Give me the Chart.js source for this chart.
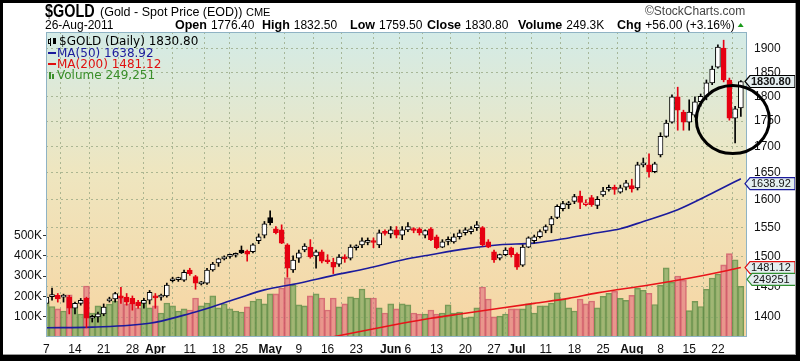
<!DOCTYPE html>
<html>
<head>
<meta charset="utf-8">
<script src="https://cdn.jsdelivr.net/npm/chart.js@4.4.0/dist/chart.umd.min.js"></script>
<style>
  html, body { margin: 0; padding: 0; background: #fff; }
  canvas { display: block; }
</style>
</head>
<body>
<canvas id="gold-chart" width="800" height="361"></canvas>
<script>
// trading days 7-Mar-2011 .. 26-Aug-2011, index 0 = 7 Mar
const tickDays   = [0, 5, 10, 15, 19, 25, 30, 34, 39, 44, 49, 54, 60, 63, 68, 73, 78, 82, 87, 92, 97, 102, 107, 112, 117];
const tickLabels = ['7', '14', '21', '28', 'Apr', '11', '18', '25', 'May', '9', '16', '23', 'Jun', '6', '13', '20', '27', 'Jul', '11', '18', '25', 'Aug', '8', '15', '22'];
const monthLabels = ['Apr', 'May', 'Jun', 'Jul', 'Aug'];

const opens = [
  1422, 1433, 1435, 1432, 1432, 1414, 1422, 1430, 1398, 1400,
  1405, 1426, 1429, 1433, 1432, 1430, 1424, 1422, 1427, 1433,
  1432, 1434, 1459, 1461, 1460, 1477, 1466, 1454, 1455, 1477,
  1489, 1496, 1500, 1502, 1511, 1509, 1508, 1527, 1537, 1568,
  1548, 1546, 1520, 1477, 1497, 1511, 1516, 1501, 1508, 1494,
  1490, 1487, 1498, 1497, 1515, 1520, 1524, 1526, 1520, 1542,
  1539, 1546, 1537, 1546, 1547, 1548, 1537, 1548, 1534, 1516,
  1526, 1525, 1534, 1541, 1543, 1550, 1550, 1525, 1508, 1497,
  1503, 1515, 1504, 1485, 1516, 1527, 1534, 1545, 1555, 1568,
  1584, 1591, 1597, 1607, 1591, 1604, 1590, 1609, 1619, 1621,
  1614, 1623, 1626, 1622, 1665, 1665, 1652, 1684, 1720, 1748,
  1799, 1768, 1748, 1762, 1789, 1800, 1828, 1861, 1902, 1834,
  1756, 1776.4
];
const highs = [
  1438, 1447, 1438, 1437, 1435, 1424, 1430, 1432, 1403, 1408,
  1421, 1432, 1440, 1448, 1438, 1434, 1427, 1430, 1443, 1438,
  1437, 1455, 1465, 1465, 1477, 1480, 1468, 1458, 1480, 1490,
  1497, 1501, 1504, 1506, 1518, 1511, 1522, 1539, 1561, 1580,
  1552, 1555, 1522, 1501, 1511, 1522, 1529, 1511, 1511, 1503,
  1497, 1503, 1503, 1520, 1520, 1532, 1532, 1532, 1546, 1546,
  1552, 1552, 1552, 1559, 1550, 1550, 1546, 1550, 1537, 1529,
  1534, 1539, 1546, 1550, 1552, 1561, 1552, 1529, 1511, 1504,
  1515, 1516, 1506, 1520, 1534, 1537, 1546, 1555, 1570, 1591,
  1597, 1597, 1610, 1616, 1600, 1608, 1606, 1623, 1627, 1627,
  1627, 1636, 1638, 1670, 1678, 1686, 1670, 1727, 1752, 1803,
  1819, 1772, 1793, 1799, 1805, 1834, 1863, 1909, 1919, 1838,
  1780, 1832.5
];
const lows = [
  1418, 1427, 1424, 1424, 1405, 1405, 1419, 1383, 1392, 1392,
  1402, 1424, 1424, 1422, 1419, 1411, 1414, 1414, 1421, 1414,
  1427, 1432, 1457, 1458, 1458, 1468, 1445, 1452, 1453, 1475,
  1483, 1494, 1497, 1499, 1505, 1492, 1506, 1522, 1532, 1555,
  1539, 1522, 1465, 1473, 1490, 1508, 1497, 1480, 1489, 1488,
  1471, 1483, 1490, 1494, 1511, 1515, 1520, 1515, 1515, 1537,
  1532, 1532, 1529, 1543, 1541, 1537, 1532, 1527, 1513, 1515,
  1520, 1523, 1530, 1537, 1539, 1545, 1518, 1515, 1490, 1494,
  1501, 1499, 1478, 1483, 1515, 1523, 1532, 1541, 1541, 1566,
  1580, 1584, 1593, 1584, 1589, 1588, 1584, 1606, 1616, 1610,
  1612, 1618, 1614, 1618, 1661, 1642, 1650, 1680, 1718, 1746,
  1732, 1732, 1732, 1758, 1780, 1793, 1824, 1859, 1830, 1752,
  1707, 1759.5
];
const closes = [
  1432, 1435, 1429, 1433, 1414, 1422, 1427, 1398, 1399, 1405,
  1416, 1427, 1438, 1431, 1424, 1421, 1418, 1427, 1440, 1431,
  1433, 1452, 1460, 1462, 1473, 1471, 1455, 1456, 1477, 1487,
  1496, 1497, 1501, 1503, 1506, 1504, 1520, 1534, 1557, 1559,
  1541, 1523, 1480, 1494, 1506, 1518, 1499, 1508, 1492, 1491,
  1482, 1499, 1496, 1516, 1517, 1527, 1528, 1524, 1541, 1540,
  1546, 1537, 1546, 1552, 1545, 1541, 1545, 1529, 1515, 1525,
  1527, 1534, 1541, 1546, 1548, 1555, 1520, 1516, 1494, 1503,
  1511, 1503, 1482, 1516, 1532, 1534, 1543, 1552, 1566, 1588,
  1593, 1594, 1606, 1595, 1594, 1591, 1601, 1616, 1620, 1619,
  1622, 1631, 1620, 1665, 1667, 1652, 1667, 1720, 1746, 1799,
  1772, 1748, 1768, 1789, 1800, 1828, 1857, 1904, 1834, 1756,
  1774.8, 1830.8
];
// volume in thousands
const volumes = [
  177, 150, 138, 128, 207, 153, 113, 251, 118, 153,
  148, 162, 177, 192, 163, 167, 143, 177, 143, 153,
  118, 167, 153, 128, 138, 133, 192, 153, 167, 202,
  143, 163, 138, 128, 123, 148, 177, 187, 163, 212,
  212, 241, 291, 256, 158, 153, 202, 212, 192, 133,
  192, 148, 163, 197, 192, 236, 192, 192, 143, 118,
  163, 138, 163, 158, 118, 113, 113, 133, 113, 118,
  158, 118, 123, 94, 99, 143, 246, 187, 99, 103,
  113, 138, 138, 138, 163, 118, 153, 153, 167, 217,
  187, 143, 128, 187, 163, 177, 143, 200, 215, 225,
  190, 180, 205, 240, 230, 215, 160, 255, 340, 270,
  300, 280, 130, 175, 150, 235, 290, 310, 355, 410,
  380, 249.251
];

// moving averages
const ma50Days  = [0, 8, 18, 24, 27, 33, 38, 44, 50, 56, 62, 67, 73, 79, 85, 91, 96, 100, 104, 110, 116, 121];
const ma50      = [1383, 1384, 1390, 1403, 1411, 1429, 1444, 1455, 1468, 1480, 1494, 1503, 1513, 1520, 1523, 1532, 1541, 1548, 1561, 1582, 1612, 1638.92];
const ma200Days = [50, 62, 67, 73, 79, 85, 91, 96, 105, 114, 121];
const ma200     = [1369, 1390, 1398, 1406, 1414, 1422, 1430, 1439, 1452, 1467, 1481.12];

const priceTicks = [1400, 1450, 1500, 1550, 1600, 1650, 1700, 1750, 1800, 1850, 1900];
const volTicks = [100, 200, 300, 400, 500];

const FONT = '"Liberation Sans", Arial, sans-serif';

const days = closes.map((c, i) => i);
const upDay = closes.map((c, i) => c >= (i ? closes[i - 1] : opens[i]));
const candleColor = upDay.map(u => u ? '#000000' : '#e60012');
const bodyColor = closes.map((c, i) => c > opens[i] ? '#ffffff' : candleColor[i]);
const volFill = upDay.map(u => u ? 'rgba(128,168,96,0.72)' : 'rgba(224,112,124,0.62)');
const volEdge = upDay.map(u => u ? 'rgba(98,140,72,0.85)' : 'rgba(205,86,102,0.8)');

function valueBox(ctx, x, y, text, border, bold) {
  ctx.save();
  ctx.beginPath();
  ctx.moveTo(x, y);
  ctx.lineTo(x + 5, y - 6);
  ctx.lineTo(x + 50, y - 6);
  ctx.lineTo(x + 50, y + 6);
  ctx.lineTo(x + 5, y + 6);
  ctx.closePath();
  ctx.fillStyle = '#e4eef0';
  ctx.fill();
  ctx.lineWidth = 1.2;
  ctx.strokeStyle = border;
  ctx.stroke();
  ctx.fillStyle = '#111';
  ctx.font = (bold ? 'bold ' : '') + '11px ' + FONT;
  ctx.textBaseline = 'middle';
  ctx.fillText(text, x + 6, y + 0.5);
  ctx.restore();
}

const decor = {
  id: 'decor',
  beforeDraw(chart) {
    const { ctx, chartArea: a } = chart;
    ctx.save();
    ctx.fillStyle = '#ffffff';
    ctx.fillRect(0, 0, chart.width, chart.height);
    const g = ctx.createLinearGradient(0, a.top, 0, a.bottom);
    g.addColorStop(0, '#d3ebe7');
    g.addColorStop(0.45, '#eee6c0');
    g.addColorStop(1, '#f7d5a2');
    ctx.fillStyle = g;
    ctx.fillRect(a.left, a.top, a.right - a.left, a.bottom - a.top);
    ctx.restore();
  },
  afterDraw(chart) {
    const { ctx, chartArea: a, scales } = chart;
    ctx.save();

    // plot border
    ctx.strokeStyle = '#8fb3c4';
    ctx.lineWidth = 1;
    ctx.strokeRect(a.left + 0.5, a.top + 0.5, a.right - a.left - 1, a.bottom - a.top - 1);

    // header line 1
    ctx.fillStyle = '#000';
    ctx.textBaseline = 'alphabetic';
    ctx.save();
    ctx.translate(45, 17);
    ctx.scale(0.8, 1);
    ctx.font = 'bold 18px ' + FONT;
    ctx.fillText('$GOLD', 0, 0);
    ctx.restore();
    ctx.font = '12.5px ' + FONT;
    ctx.fillText('(Gold - Spot Price (EOD))', 100, 16);
    ctx.font = '11px ' + FONT;
    ctx.fillText('CME', 246, 16);
    ctx.fillStyle = '#444';
    ctx.font = '12px ' + FONT;
    ctx.fillText('\u00a9StockCharts.com', 645, 15);

    // header line 2
    ctx.fillStyle = '#000';
    ctx.font = '12px ' + FONT;
    ctx.fillText('26-Aug-2011', 45, 29);
    const parts = [['Open', 175, '1776.40'], ['High', 262, '1832.50'], ['Low', 350, '1759.50'],
                   ['Close', 427, '1830.80'], ['Volume', 518, '249.3K'], ['Chg', 617, '+56.00 (+3.16%)']];
    let endX = 0;
    parts.forEach(([k, kx, v]) => {
      ctx.font = 'bold 12.5px ' + FONT;
      ctx.fillText(k, kx, 29);
      const vx = kx + ctx.measureText(k).width + 4;
      ctx.font = '12px ' + FONT;
      ctx.fillText(v, vx, 29);
      endX = vx + ctx.measureText(v).width;
    });
    ctx.fillStyle = '#1a9a1a';
    ctx.beginPath();
    ctx.moveTo(endX + 3, 27); ctx.lineTo(endX + 9, 27); ctx.lineTo(endX + 6, 23);
    ctx.closePath(); ctx.fill();

    // legend inside plot
    ctx.font = '12px "DejaVu Sans", sans-serif';
    ctx.fillStyle = '#000';
    ctx.fillRect(50, 38, 1, 8);
    ctx.strokeStyle = '#000';
    ctx.strokeRect(48.5, 39.5, 2, 4);
    ctx.fillRect(53, 38, 3, 6);
    ctx.fillText('$GOLD (Daily) 1830.80', 59, 45);
    ctx.fillStyle = '#1b1b9c';
    ctx.fillRect(48, 52, 8, 2);
    ctx.fillText('MA(50) 1638.92', 57, 57);
    ctx.fillStyle = '#e01010';
    ctx.fillRect(48, 63, 8, 2);
    ctx.fillText('MA(200) 1481.12', 57, 68);
    ctx.fillStyle = '#3a8f2a';
    ctx.fillRect(49, 72, 2, 7);
    ctx.fillRect(52, 74, 2, 5);
    ctx.fillText('Volume 249,251', 57, 79);

    // last-value boxes on the right
    const py = scales.price;
    valueBox(ctx, 745, py.getPixelForValue(closes[closes.length - 1]), '1830.80', '#000', true);
    valueBox(ctx, 745, py.getPixelForValue(ma50[ma50.length - 1]) + 5, '1638.92', '#1b1b9c', false);
    valueBox(ctx, 745, py.getPixelForValue(ma200[ma200.length - 1]), '1481.12', '#e01010', false);
    valueBox(ctx, 747, scales.vol.getPixelForValue(volumes[volumes.length - 1]) - 7, '249251', '#2f8f2f', false);

    // hand-drawn circle around the late-August reversal
    ctx.beginPath();
    ctx.lineWidth = 3;
    ctx.strokeStyle = '#000';
    ctx.ellipse(scales.x.getPixelForValue(119.6), py.getPixelForValue(1753), 36.5, 34, 0, 0, Math.PI * 2);
    ctx.stroke();

    // outer frame
    ctx.fillStyle = '#000';
    ctx.fillRect(0, 0, chart.width, 3);
    ctx.fillRect(0, 0, 3, chart.height);
    ctx.fillRect(chart.width - 4, 0, 4, chart.height);
    ctx.fillRect(0, chart.height - 6, chart.width, 6);
    ctx.fillStyle = '#9a9a9a';
    ctx.fillRect(3, chart.height - 7, chart.width - 7, 1);
    ctx.fillRect(chart.width - 5, 3, 1, chart.height - 9);
    ctx.restore();
  }
};

const gridColor = 'rgba(150,165,130,0.75)';

new Chart(document.getElementById('gold-chart'), {
  data: {
    datasets: [
      {
        type: 'bar', label: 'Volume', yAxisID: 'vol',
        data: volumes.map((v, i) => ({ x: i, y: v })),
        backgroundColor: volFill, borderColor: volEdge, borderWidth: 1,
        barThickness: 6, order: 10
      },
      {
        type: 'line', label: 'MA(200)', yAxisID: 'price',
        data: ma200Days.map((d, k) => ({ x: d, y: ma200[k] })),
        borderColor: '#e8141a', borderWidth: 1.6, pointRadius: 0,
        cubicInterpolationMode: 'monotone', order: 6
      },
      {
        type: 'line', label: 'MA(50)', yAxisID: 'price',
        data: ma50Days.map((d, k) => ({ x: d, y: ma50[k] })),
        borderColor: '#1b1b9c', borderWidth: 1.6, pointRadius: 0,
        cubicInterpolationMode: 'monotone', order: 5
      },
      {
        type: 'bar', label: 'wick', yAxisID: 'price',
        data: days.map(i => ({ x: i, y: [lows[i], highs[i]] })),
        backgroundColor: candleColor, barThickness: 1, order: 2
      },
      {
        type: 'bar', label: '$GOLD', yAxisID: 'price',
        data: days.map(i => ({ x: i, y: [opens[i], closes[i]] })),
        backgroundColor: bodyColor, borderColor: candleColor, borderWidth: 1,
        borderSkipped: false, barThickness: 5, minBarLength: 2, order: 1
      }
    ]
  },
  options: {
    responsive: false,
    animation: false,
    devicePixelRatio: 1,
    layout: { padding: { top: 32, left: 0, right: 0, bottom: 0 } },
    datasets: { bar: { grouped: false } },
    plugins: { legend: { display: false }, tooltip: { enabled: false } },
    scales: {
      x: {
        type: 'linear', min: -0.05, max: 122.07, bounds: 'data', offset: false,
        afterBuildTicks: s => { s.ticks = tickDays.map(v => ({ value: v })); },
        afterFit: s => { s.height = 24; },
        grid: { color: gridColor, drawTicks: false },
        border: { display: false, dash: [2, 3] },
        ticks: {
          autoSkip: false, maxRotation: 0, padding: 5, color: '#111',
          font: c => ({ family: FONT, size: 12, weight: monthLabels.includes(tickLabels[c.index]) ? 'bold' : 'normal' }),
          callback: (v, k) => tickLabels[k]
        }
      },
      price: {
        type: 'logarithmic', position: 'right', min: 1368.5, max: 1937, bounds: 'data',
        afterBuildTicks: s => { s.ticks = priceTicks.map(v => ({ value: v })); },
        afterFit: s => { s.width = 53; },
        grid: { color: gridColor, drawTicks: false },
        border: { display: false, dash: [2, 3] },
        ticks: { padding: 7, color: '#111', font: { family: FONT, size: 12 }, callback: v => String(v) }
      },
      vol: {
        type: 'linear', position: 'left', min: 0, max: 1500, bounds: 'data',
        afterBuildTicks: s => { s.ticks = volTicks.map(v => ({ value: v })); },
        afterFit: s => { s.width = 46; },
        grid: { drawOnChartArea: false, drawTicks: true, tickLength: 3, color: '#333' },
        border: { display: false },
        ticks: { padding: 1, color: '#111', font: { family: FONT, size: 12 }, callback: v => v + 'K' }
      }
    }
  },
  plugins: [decor]
});
</script>
</body>
</html>
